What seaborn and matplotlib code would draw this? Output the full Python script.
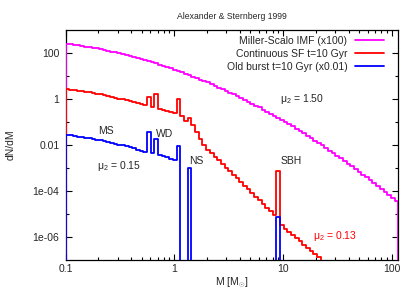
import numpy as np
import pandas as pd
import matplotlib
matplotlib.use("Agg")
import matplotlib.pyplot as plt
import seaborn as sns
from matplotlib.ticker import LogLocator, FixedLocator, NullFormatter

# mass bins: 0.034 dex wide, starting at 0.1 Msun
bin_edges = np.logspace(-1, 2.06, 91)

# log10(dN/dM) per bin (None = empty bin)
imf_log = [2.42, 2.40, 2.38, 2.35, 2.33, 2.30, 2.28, 2.25, 2.22, 2.19,
           2.15, 2.12, 2.08, 2.05, 2.01, 1.97, 1.93, 1.89, 1.85, 1.80,
           1.76, 1.71, 1.66, 1.62, 1.57, 1.51, 1.46, 1.41, 1.35, 1.29,
           1.24, 1.18, 1.12, 1.05, 0.99, 0.93, 0.86, 0.79, 0.73, 0.66,
           0.59, 0.51, 0.44, 0.37, 0.29, 0.21, 0.13, 0.06, -0.03, -0.11,
           -0.19, -0.28, -0.36, -0.45, -0.54, -0.63, -0.72, -0.81, -0.91, -1.00,
           -1.10, -1.19, -1.29, -1.39, -1.49, -1.60, -1.70, -1.81, -1.91, -2.02,
           -2.13, -2.24, -2.35, -2.46, -2.58, -2.69, -2.81, -2.93, -3.05, -3.17,
           -3.29, -3.41, -3.54, -3.66, -3.79, -3.92, -4.05, -4.18, -4.31, -4.44]

csf_log = [0.44, 0.42, 0.40, 0.37, 0.35, 0.32, 0.30, 0.27, 0.24, 0.21,
           0.17, 0.14, 0.10, 0.07, 0.03, -0.01, -0.05, -0.09, -0.13, -0.18,
           -0.22, -0.26, 0.08, -0.34, 0.21, -0.41, -0.46, -0.51, -0.56, -0.61,
           0.00, -0.75, -0.97, -0.83, -1.12, -1.42, -1.72, -1.98, -2.20, -2.36,
           -2.52, -2.67, -2.83, -2.99, -3.15, -3.31, -3.46, -3.62, -3.78, -3.94,
           -4.10, -4.26, -4.41, -4.57, -4.73, -4.89, -5.05, -3.13, -5.51, -5.65,
           -5.79, -5.93, -6.07, -6.21, -6.35, -6.49, -6.63, -6.77, -6.91]

burst_log = [-1.56, -1.58, -1.60, -1.63, -1.65, -1.68, -1.70, -1.73, -1.76, -1.80,
             -1.84, -1.87, -1.91, -1.94, -1.98, -2.02, -2.06, -2.10, -2.15, -2.20,
             -2.24, -2.29, -1.43, -2.37, -1.73, -2.44, -2.49, -2.54, -2.59, -2.65,
             -2.03, None, None, -3.02] + [None] * 23 + [-5.13]

series_names = ["Miller-Scalo IMF (x100)", "Continuous SF t=10 Gyr",
                "Old burst t=10 Gyr (x0.01)"]
series_colors = ["#ff00ff", "#ff0000", "#0000ff"]

xtick_vals = [0.1, 1, 10, 100]
xtick_labels = ["0.1", "1", "10", "100"]
ytick_vals = [100, 1, 0.01, 1e-4, 1e-6]
ytick_labels = ["100", "1", "0.01", "1e-04", "1e-06"]

sns.set_style("ticks")
plt.rcParams["font.family"] = ["Liberation Sans", "DejaVu Sans"]
plt.rcParams["mathtext.fontset"] = "custom"
plt.rcParams["mathtext.rm"] = "Liberation Sans"
plt.rcParams["mathtext.it"] = "Liberation Sans:italic"

# histogram outlines that drop to below the axis at the ends and in empty bins
floor = 1e-9
frames = []
for name, logv in zip(series_names, [imf_log, csf_log, burst_log]):
    v = np.array([floor if a is None else 10.0 ** a for a in logv])
    e = bin_edges[:len(v) + 1]
    frames.append(pd.DataFrame({
        "M": np.concatenate([[e[0]], e, [e[-1]]]),
        "dNdM": np.concatenate([[floor], v, [v[-1], floor]]),
        "series": name,
    }))
df = pd.concat(frames, ignore_index=True)

fig, ax = plt.subplots(figsize=(4.15, 2.91), dpi=100)
fig.subplots_adjust(left=0.1583, right=0.9598, bottom=0.1082, top=0.8952)
ax.set_xscale("log")
ax.set_yscale("log")

sns.lineplot(data=df, x="M", y="dNdM", hue="series", palette=series_colors,
             estimator=None, sort=False, drawstyle="steps-post",
             linewidth=1.3, zorder=3, ax=ax)

ax.set_xlim(0.1, bin_edges[-1])
ax.set_ylim(1e-7, 1e3)

ax.set_xticks(xtick_vals, xtick_labels)
ax.xaxis.set_minor_locator(LogLocator(base=10, subs=np.arange(2, 10)))
ax.xaxis.set_minor_formatter(NullFormatter())
ax.set_yticks(ytick_vals, ytick_labels)
ax.yaxis.set_minor_locator(FixedLocator([10, 0.1, 1e-3, 1e-5]))
ax.yaxis.set_minor_formatter(NullFormatter())

ax.tick_params(which="both", direction="in", top=True, right=True,
               width=0.8, color="black", labelsize=7.5)
ax.tick_params(which="major", length=4.5)
ax.tick_params(which="minor", length=2.5)
ax.tick_params(axis="y", pad=4.5)
ax.tick_params(axis="x", pad=3.5)
for s in ax.spines.values():
    s.set_color("black")
    s.set_linewidth(0.9)

ax.set_xlabel("M [M$_{\\odot}$]", fontsize=7.5)
ax.set_ylabel("dN/dM", fontsize=7.5)
ax.xaxis.set_label_coords(0.5, -0.072)
ax.yaxis.set_label_coords(-0.15, 0.5)
ax.set_title("Alexander & Sternberg 1999", fontsize=6.2, pad=8)

handles, labels = ax.get_legend_handles_labels()
ax.legend(handles, labels, loc="upper right", bbox_to_anchor=(0.958, 0.977),
          markerfirst=False, frameon=False, fontsize=7.5, handlelength=2.85,
          handletextpad=0.7, labelspacing=0.3, borderpad=0, borderaxespad=0)

ax.text(15, 1.0, "μ$_2$ = 1.50", fontsize=7.5, ha="center", va="center")
ax.text(0.235, 0.042, "MS", fontsize=7.5, ha="center", va="center")
ax.text(0.82, 0.0295, "WD", fontsize=7.5, ha="center", va="center")
ax.text(0.309, 1.2e-3, "μ$_2$ = 0.15", fontsize=7.5, ha="center", va="center")
ax.text(1.58, 2.1e-3, "NS", fontsize=7.5, ha="center", va="center")
ax.text(11.9, 1.95e-3, "SBH", fontsize=7.5, ha="center", va="center")
ax.text(29.9, 1.08e-6, "μ$_2$ = 0.13", fontsize=7.5, ha="center", va="center",
        color="#ff0000")

fig.savefig("out.png", dpi=100)
